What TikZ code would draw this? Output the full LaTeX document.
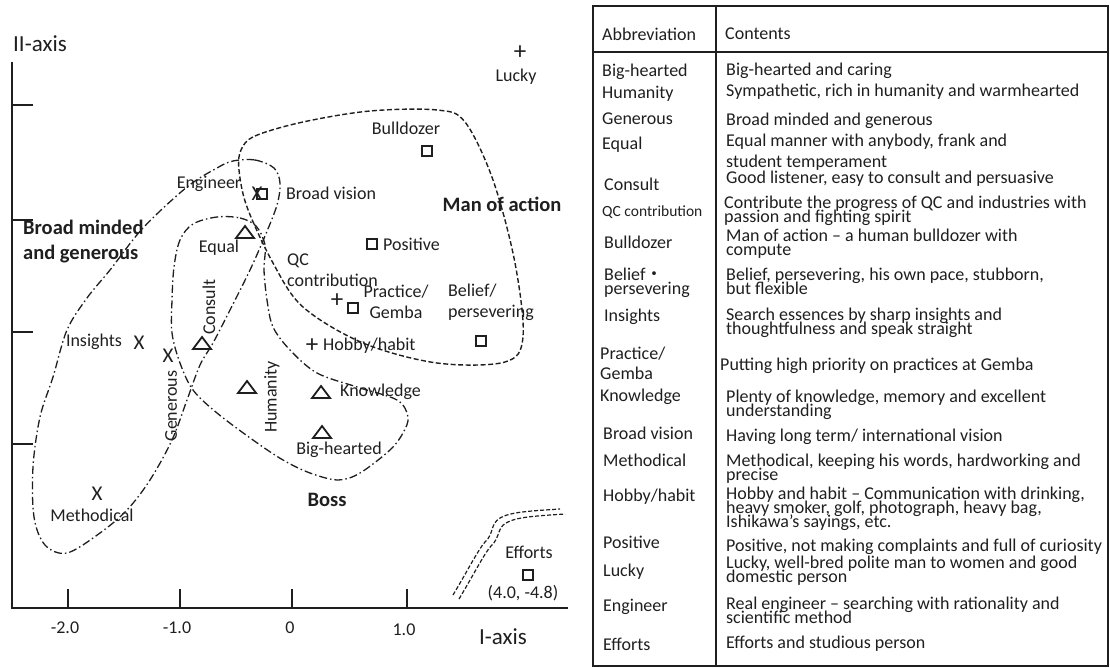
\documentclass[tikz,border=0pt]{standalone}
\usepackage{fontspec}
\setmainfont{Carlito}
\newfontfamily\cjkfont{Noto Sans CJK JP}
\usetikzlibrary{positioning}
\colorlet{ink}{black!88}
\newcommand\lblfont{\fontsize{18}{21}\selectfont}
\newcommand\smallfont{\fontsize{15.5}{18}\selectfont}
\newcommand\headfont{\fontsize{20.5}{25}\selectfont\bfseries}
\newcommand\axisfont{\fontsize{23}{26}\selectfont}
\newcommand\tightfont{\fontsize{18}{14}\selectfont\lineskiplimit=-\maxdimen}
\tikzset{
  sqmark/.style={draw=ink,line width=1.5pt,minimum size=10pt,inner sep=0pt},
  xmark/.style={text=ink,inner sep=0pt,font=\fontsize{21}{21}\selectfont},
  plusmark/.style={text=ink,inner sep=0pt,font=\fontsize{25}{25}\selectfont},
  trimark/.pic={\draw[ink,line width=1.8pt,line join=miter] (-9,6) -- (9,6) -- (0,-6) -- cycle;},
  lbl/.style={text=ink,inner sep=0pt,font=\lblfont},
  headlbl/.style={text=ink,inner sep=0pt,font=\headfont},
  abbr/.style={anchor=west,text=ink,inner sep=0pt,font=\lblfont},
  cont/.style={anchor=west,text=ink,inner sep=0pt,align=left,font=\tightfont},
  dashcurve/.style={ink,line width=1.4pt,dash pattern=on 5pt off 2.5pt},
  dotcurve/.style={ink,line width=1.3pt,dash pattern=on 8pt off 3pt on 1.5pt off 3pt},
}

\begin{document}
\begin{tikzpicture}[x=1pt,y=-1pt]
\useasboundingbox (0,0) rectangle (1110,668);
% Axes
\draw[ink,line width=1.7pt] (12,62) -- (12,608) -- (568,608);
\foreach \tx in {68,180,292,407} \draw[ink,line width=1.5pt] (\tx,608) -- (\tx,589);
\foreach \ty in {105,220,332,444} \draw[ink,line width=1.5pt] (12,\ty) -- (33,\ty);
\node[lbl] (tickA) at (65,628) {-2.0};
\node[lbl] (tickB) at (177,628) {-1.0};
\node[lbl] (tickC) at (290,628) {0};
\node[lbl] (tickD) at (404,630) {1.0};
\node[text=ink,inner sep=0pt,font=\axisfont] (axisI) at (503,637) {I-axis};
\node[text=ink,inner sep=0pt,font=\axisfont] (axisII) at (40,44) {II-axis};
% Regions
\draw[dashcurve] plot[smooth cycle,tension=0.55] coordinates {(241,150) (255,136) (303,122) (370,111) (437,110) (465,122) (493,180) (515,263) (523,337) (505,362) (437,363) (363,343) (303,307) (273,263) (247,207) (239,170)};
\draw[dotcurve] plot[smooth cycle,tension=0.55] coordinates {(233,161) (255,160) (274,168) (280,183) (277,205) (265,236) (250,270) (230,310) (213,343) (200,365) (187,400) (172,440) (150,480) (127,510) (100,533) (67,553) (45,545) (34,517) (33,467) (40,417) (53,377) (67,330) (87,298) (110,270) (143,228) (187,187) (217,168)};
\draw[dotcurve] plot[smooth cycle,tension=0.55] coordinates {(217,217) (240,218) (256,226) (265,245) (264,270) (267,300) (273,327) (290,350) (317,373) (357,387) (397,400) (408,417) (403,433) (390,450) (360,473) (338,480) (310,473) (283,460) (253,440) (217,413) (193,390) (180,363) (172,333) (172,300) (174,267) (180,240) (193,224)};
% Axis break
\draw[dashcurve,line width=1.2pt,dash pattern=on 4pt off 2pt] (453,595) .. controls (468,570) and (478,550) .. (485,542) .. controls (494,534) and (490,524) .. (500,518) .. controls (510,512) and (530,511) .. (560,509);
\draw[dashcurve,line width=1.2pt,dash pattern=on 4pt off 2pt] (459,599) .. controls (474,574) and (484,554) .. (491,546) .. controls (500,538) and (497,528) .. (506,523) .. controls (516,517) and (535,516) .. (565,514);
% Squares
\node[sqmark] (sqBulldozer) at (427,151) {};
\node[sqmark] (sqVision) at (262,194) {};
\node[sqmark] (sqPositive) at (372,244) {};
\node[sqmark] (sqPractice) at (353,308) {};
\node[sqmark] (sqBelief) at (481,341) {};
\node[sqmark] (sqEfforts) at (528,575) {};
% Triangles
\pic (triEqual) at (245,232) {trimark};
\pic (triConsult) at (202,343) {trimark};
\pic (triHumanity) at (247,387) {trimark};
\pic (triKnowledge) at (321,392) {trimark};
\pic (triBig) at (322,432) {trimark};
% Crosses and pluses
\node[xmark] (xEngineer) at (257,194) {X};
\node[xmark] (xInsights) at (139,343) {X};
\node[xmark] (xGenerous) at (168,356) {X};
\node[xmark] (xMethodical) at (97,494) {X};
\node[plusmark] (plQC) at (337,301) {+};
\node[plusmark] (plHobby) at (312,346) {+};
\node[plusmark] (plLucky) at (520,53) {+};
% Labels
\node[lbl] (lbBulldozer) at (406,128) {Bulldozer};
\node[lbl] (lbEngineer) at (209,184) {Engineer};
\node[lbl,anchor=west] (lbVision) at (286,193) {Broad vision};
\node[lbl,anchor=west] (lbPositive) at (383,244) {Positive};
\node[lbl,align=left,anchor=west] (lbQC) at (287,270) {QC\\contribution};
\node[lbl,align=center] (lbPractice) at (396,302) {Practice/\\Gemba};
\node[lbl,align=left,anchor=west] (lbBelief) at (448,302) {Belief/\\persevering};
\node[lbl,anchor=west] (lbHobby) at (323,346) {Hobby/habit};
\node[lbl] (lbEqual) at (219,248) {Equal};
\node[lbl,rotate=90] (lbConsult) at (209,307) {Consult};
\node[lbl] (lbInsights) at (94,342) {Insights};
\node[lbl,rotate=90] (lbGenerous) at (171,406) {Generous};
\node[lbl,rotate=90] (lbHumanity) at (272,397) {Humanity};
\node[lbl,anchor=west] (lbKnowledge) at (340,392) {Knowledge};
\node[lbl] (lbBig) at (339,450) {Big-hearted};
\node[lbl] (lbMethodical) at (92,515) {Methodical};
\node[lbl] (lbLucky) at (516,77) {Lucky};
\node[lbl] (lbEfforts) at (529,552) {Efforts};
\node[lbl] (lbEffortsVal) at (523,593) {(4.0, -4.8)};
% Group names
\node[headlbl] (grAction) at (502,204) {Man of action};
\node[headlbl,align=left,anchor=west] (grBroad) at (23,242) {Broad minded\\and generous};
\node[headlbl] (grBoss) at (327,500) {Boss};
% Table
\draw[ink,line width=2pt] (593,6) rectangle (1108,666);
\draw[ink,line width=2pt] (716,6) -- (716,666);
\draw[ink,line width=1.4pt] (593,52) -- (1108,52);
\node[abbr] (abHead) at (602,34) {Abbreviation};
\node[abbr] (coHead) at (725,34) {Contents};
\node[abbr] (abBig) at (602,72) {Big-hearted};
\node[cont] (coBig) at (726,71) {Big-hearted and caring};
\node[abbr] (abHumanity) at (602,94) {Humanity};
\node[cont] (coHumanity) at (726,92) {Sympathetic, rich in humanity and warmhearted};
\node[abbr] (abGenerous) at (602,119) {Generous};
\node[cont] (coGenerous) at (726,121) {Broad minded and generous};
\node[abbr] (abEqual) at (602,145) {Equal};
\node[cont,font=\lblfont] (coEqual) at (726,152.5) {Equal manner with anybody, frank and\\student temperament};
\node[abbr] (abConsult) at (604,184) {Consult};
\node[cont] (coConsult) at (726,179) {Good listener, easy to consult and persuasive};
\node[abbr,font=\smallfont] (abQC) at (602,212) {QC contribution};
\node[cont] (coQC) at (724,210.5) {Contribute the progress of QC and industries with\\passion and fighting spirit};
\node[abbr] (abBulldozer) at (604,242) {Bulldozer};
\node[cont] (coBulldozer) at (726,244) {Man of action -- a human bulldozer with\\compute};
\node[cont] (abBelief) at (604,283) {Belief{\cjkfont ・}\\persevering};
\node[cont] (coBelief) at (726,281) {Belief, persevering, his own pace, stubborn,\\but flexible};
\node[abbr] (abInsights) at (604,317) {Insights};
\node[cont] (coInsights) at (726,322.5) {Search essences by sharp insights and\\thoughtfulness and speak straight};
\node[cont,font=\fontsize{18}{20}\selectfont] (abPractice) at (600,363) {Practice/\\Gemba};
\node[cont] (coPractice) at (720,366) {Putting high priority on practices at Gemba};
\node[abbr] (abKnowledge) at (600,397) {Knowledge};
\node[cont] (coKnowledge) at (726,404.5) {Plenty of knowledge, memory and excellent\\understanding};
\node[abbr] (abVision) at (603,433) {Broad vision};
\node[cont] (coVision) at (726,437) {Having long term/ international vision};
\node[abbr] (abMethodical) at (603,460) {Methodical};
\node[cont] (coMethodical) at (726,468.5) {Methodical, keeping his words, hardworking and\\precise};
\node[abbr] (abHobby) at (603,497) {Hobby/habit};
\node[cont] (coHobby) at (726,508.5) {Hobby and habit -- Communication with drinking,\\heavy smoker, golf, photograph, heavy bag,\\Ishikawa’s sayings, etc.};
\node[abbr] (abPositive) at (603,542) {Positive};
\node[cont] (coPositive) at (726,547) {Positive, not making complaints and full of curiosity};
\node[abbr] (abLucky) at (603,572) {Lucky};
\node[cont] (coLucky) at (726,570.5) {Lucky, well-bred polite man to women and good\\domestic person};
\node[abbr] (abEngineer) at (603,607) {Engineer};
\node[cont] (coEngineer) at (726,610) {Real engineer -- searching with rationality and\\scientific method};
\node[abbr] (abEfforts) at (603,644) {Efforts};
\node[cont] (coEfforts) at (726,644) {Efforts and studious person};
\end{tikzpicture}
\end{document}
